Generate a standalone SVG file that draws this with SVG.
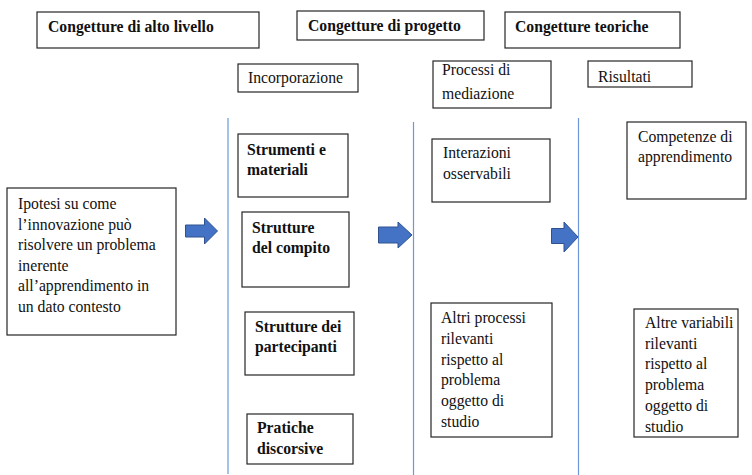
<svg xmlns="http://www.w3.org/2000/svg" width="752" height="475" viewBox="0 0 752 475">
<style>
.box{fill:#fff;stroke:#262626;stroke-width:1.2}
.t{font-family:"Liberation Serif","Times New Roman",serif;font-size:15.7px;fill:#111}
.b{font-weight:bold}
.arr{fill:#4472c4;stroke:#2f528f;stroke-width:1}
.vl{stroke:#6f97d8;stroke-width:1.2;fill:none}
.vl1{stroke:#8db3e2;stroke-width:1.6;fill:none}
</style>
<rect width="752" height="475" fill="#fff"/>
<g id="connectors">
<line class="vl1" x1="228" y1="118" x2="228" y2="474"/>
<line class="vl" x1="413.5" y1="122" x2="413.5" y2="475"/>
<line class="vl" x1="578.5" y1="118" x2="578.5" y2="475"/>
<path id="arrow1" class="arr" d="M185.5,225 H204.5 V218 L217.5,231 L204.5,244 V237 H185.5 Z"/>
<path id="arrow2" class="arr" d="M378.5,227 H398 V222 L412,235 L398,248 V243 H378.5 Z"/>
<path id="arrow3" class="arr" d="M551.5,228.5 H564 V222 L578,237 L564,252 V243.5 H551.5 Z"/>
</g>
<g id="n-alto"><rect class="box" x="37" y="12" width="222" height="36"/><text class="t b" x="48" y="32">Congetture di alto livello</text></g>
<g id="n-progetto"><rect class="box" x="297" y="11" width="187" height="29"/><text class="t b" x="308" y="31">Congetture di progetto</text></g>
<g id="n-teoriche"><rect class="box" x="505" y="12" width="175" height="36"/><text class="t b" x="515" y="32">Congetture teoriche</text></g>
<g id="n-incorporazione"><rect class="box" x="238" y="64" width="120" height="28"/><text class="t" x="248" y="83">Incorporazione</text></g>
<g id="n-processi"><rect class="box" x="433" y="61" width="118" height="47"/><text class="t" x="442" y="75">Processi di</text><text class="t" x="442" y="99">mediazione</text></g>
<g id="n-risultati"><rect class="box" x="588" y="61" width="104" height="26"/><text class="t" x="598" y="82">Risultati</text></g>
<g id="n-ipotesi"><rect class="box" x="7" y="188" width="169" height="147"/>
<text class="t" x="18" y="209">Ipotesi su come</text>
<text class="t" x="18" y="229.6">l’innovazione può</text>
<text class="t" x="18" y="250.2">risolvere un problema</text>
<text class="t" x="18" y="270.8">inerente</text>
<text class="t" x="18" y="291.4">all’apprendimento in</text>
<text class="t" x="18" y="312">un dato contesto</text></g>
<g id="n-strumenti"><rect class="box" x="238" y="134" width="110" height="63"/><text class="t b" x="247" y="155">Strumenti e</text><text class="t b" x="247" y="175">materiali</text></g>
<g id="n-compito"><rect class="box" x="242" y="212" width="107" height="75"/><text class="t b" x="252" y="233">Strutture</text><text class="t b" x="252" y="253">del compito</text></g>
<g id="n-partecipanti"><rect class="box" x="245" y="312" width="109" height="63"/><text class="t b" x="255" y="332">Strutture dei</text><text class="t b" x="255" y="352">partecipanti</text></g>
<g id="n-pratiche"><rect class="box" x="247" y="414" width="106" height="50"/><text class="t b" x="257" y="433">Pratiche</text><text class="t b" x="257" y="454">discorsive</text></g>
<g id="n-interazioni"><rect class="box" x="432" y="139" width="118" height="63"/><text class="t" x="443" y="158">Interazioni</text><text class="t" x="443" y="179">osservabili</text></g>
<g id="n-altri"><rect class="box" x="431" y="303" width="121" height="134"/>
<text class="t" x="441" y="323">Altri processi</text>
<text class="t" x="441" y="343.8">rilevanti</text>
<text class="t" x="441" y="364.6">rispetto al</text>
<text class="t" x="441" y="385.4">problema</text>
<text class="t" x="441" y="406.2">oggetto di</text>
<text class="t" x="441" y="427">studio</text></g>
<g id="n-competenze"><rect class="box" x="627" y="122" width="119" height="77"/><text class="t" x="638" y="142">Competenze di</text><text class="t" x="638" y="162">apprendimento</text></g>
<g id="n-altre"><rect class="box" x="634" y="309" width="104" height="128"/>
<text class="t" x="645" y="328">Altre variabili</text>
<text class="t" x="645" y="348.7">rilevanti</text>
<text class="t" x="645" y="369.4">rispetto al</text>
<text class="t" x="645" y="390.1">problema</text>
<text class="t" x="645" y="410.8">oggetto di</text>
<text class="t" x="645" y="431.5">studio</text></g>
</svg>
